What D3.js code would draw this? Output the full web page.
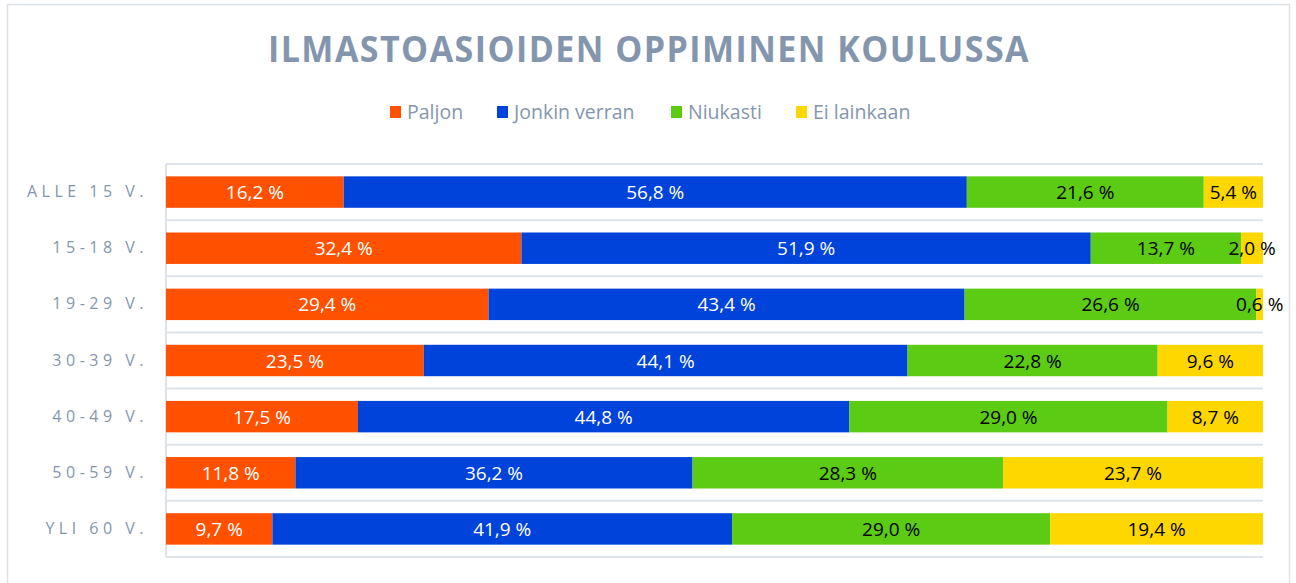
<!DOCTYPE html>
<html lang="fi">
<head>
<meta charset="UTF-8">
<title>Ilmastoasioiden oppiminen koulussa</title>
<script src="https://cdn.jsdelivr.net/npm/d3@7"></script>
<style>
    body { margin: 0; background: #fff; }
    svg { display: block; font-family: "Open Sans", "Noto Sans", sans-serif; }
    .grid line { stroke: #dee3ea; stroke-width: 2; }
    .cat text { fill: #8496ae; font-size: 16px; letter-spacing: 4.5px; }
</style>
</head>
<body>
<svg width="1296" height="583"></svg>
<script>
    var categories = ["ALLE 15 V.", "15-18 V.", "19-29 V.", "30-39 V.", "40-49 V.", "50-59 V.", "YLI 60 V."];
    var seriesNames = ["Paljon", "Jonkin verran", "Niukasti", "Ei lainkaan"];
    var paljon = [16.2, 32.4, 29.4, 23.5, 17.5, 11.8, 9.7];
    var jonkin = [56.8, 51.9, 43.4, 44.1, 44.8, 36.2, 41.9];
    var niukasti = [21.6, 13.7, 26.6, 22.8, 29.0, 28.3, 29.0];
    var eiLainkaan = [5.4, 2.0, 0.6, 9.6, 8.7, 23.7, 19.4];
    var colors = ["#ff5100", "#0043da", "#5bcb14", "#ffd700"];
    var labelColors = ["#fff", "#fff", "#000", "#000"];

    var rows = categories.map(function (c, i) {
        return {cat: c, s0: paljon[i], s1: jonkin[i], s2: niukasti[i], s3: eiLainkaan[i]};
    });
    var keys = ["s0", "s1", "s2", "s3"];
    var stacked = d3.stack().keys(keys)(rows);

    var svg = d3.select("svg");
    // outer frame
    svg.append("rect")
        .attr("x", 7.5).attr("y", 4.5).attr("width", 1282).attr("height", 600)
        .attr("fill", "none").attr("stroke", "#dde2e9").attr("stroke-width", 1.5);

    var plotLeft = 166, plotRight = 1263, plotTop = 164, plotBottom = 557;
    var x = d3.scaleLinear().domain([0, 100]).range([plotLeft, plotRight]);
    var y = d3.scaleBand().domain(categories).range([plotTop, plotBottom]).paddingInner(0.44).paddingOuter(0.22);

    // title
    svg.append("text")
        .attr("x", 649).attr("y", 62)
        .attr("text-anchor", "middle")
        .attr("textLength", 762).attr("lengthAdjust", "spacingAndGlyphs")
        .style("font-size", "35px").style("font-weight", "700")
        .style("letter-spacing", "1.5px")
        .attr("fill", "#8496ae")
        .text("ILMASTOASIOIDEN OPPIMINEN KOULUSSA");

    // legend
    var legendX = [390, 497, 671, 796];
    var legend = svg.selectAll(".legend").data(seriesNames).enter().append("g");
    legend.append("rect")
        .attr("x", function (d, i) { return legendX[i]; })
        .attr("y", 106).attr("width", 11).attr("height", 12)
        .attr("fill", function (d, i) { return colors[i]; });
    legend.append("text")
        .attr("x", function (d, i) { return legendX[i] + 17; })
        .attr("y", 119)
        .style("font-size", "19.5px")
        .attr("fill", "#8496ae")
        .text(function (d) { return d; });

    // gridlines between categories
    var bounds = [plotTop].concat(categories.map(function (c) { return y(c) + y.bandwidth() + y.step() * 0.22; }));
    svg.append("g").attr("class", "grid")
        .selectAll("line").data(bounds).enter().append("line")
        .attr("x1", plotLeft).attr("x2", plotRight)
        .attr("y1", function (d) { return d; }).attr("y2", function (d) { return d; });
    svg.append("line")
        .attr("x1", plotLeft).attr("x2", plotLeft).attr("y1", plotTop).attr("y2", plotBottom)
        .attr("stroke", "#dee3ea").attr("stroke-width", 2);

    // category labels
    var axisY = d3.axisLeft(y).tickSize(0).tickPadding(0);
    svg.append("g").attr("class", "cat")
        .attr("transform", "translate(" + (plotLeft - 18) + ",0)")
        .call(axisY)
        .call(function (g) {
            g.select(".domain").remove();
            g.attr("font-family", null).attr("font-size", null);
        })
        .selectAll("text").attr("fill", null);

    // bars
    var layer = svg.selectAll(".layer").data(stacked).enter().append("g")
        .attr("fill", function (d, i) { return colors[i]; });
    layer.selectAll("rect").data(function (d) { return d; }).enter().append("rect")
        .attr("x", function (d) { return x(d[0]); })
        .attr("width", function (d) { return x(d[1]) - x(d[0]); })
        .attr("y", function (d) { return y(d.data.cat); })
        .attr("height", y.bandwidth());

    // data labels
    var fmt = function (v) { return v.toFixed(1).replace(".", ",") + " %"; };
    stacked.forEach(function (s, si) {
        svg.append("g").selectAll("text").data(s).enter().append("text")
            .attr("x", function (d) { return x((d[0] + d[1]) / 2); })
            .attr("y", function (d) { return y(d.data.cat) + y.bandwidth() / 2 + 7; })
            .attr("text-anchor", "middle")
            .style("font-size", "19px")
            .attr("fill", labelColors[si])
            .text(function (d) { return fmt(d[1] - d[0]); });
    });
</script>
</body>
</html>
